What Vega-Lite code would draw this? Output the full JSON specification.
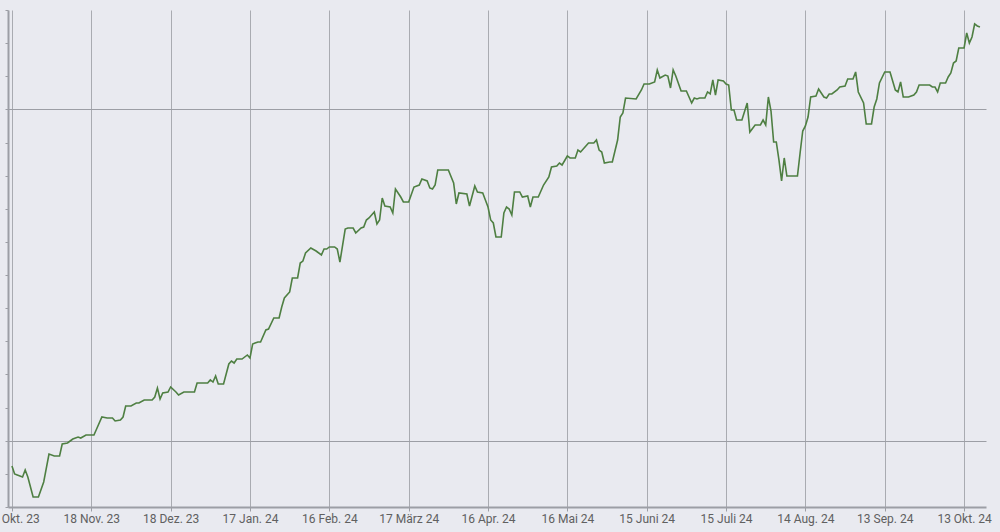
{
  "$schema": "https://vega.github.io/schema/vega-lite/v6.json",
  "width": 978,
  "height": 497,
  "autosize": {"type": "none"},
  "padding": {"left": 8, "top": 10, "right": 14, "bottom": 25},
  "background": "#e9eaf0",
  "config": {"view": {"stroke": null}, "font": "Roboto"},
  "data": {"values": [
    {"d":"2023-10-19","v":96.19},{"d":"2023-10-20","v":94.98},{"d":"2023-10-21","v":94.83},{"d":"2023-10-23","v":94.53},{"d":"2023-10-24","v":95.58},{"d":"2023-10-25","v":94.53},{"d":"2023-10-27","v":91.51},{"d":"2023-10-29","v":91.51},{"d":"2023-10-31","v":93.77},
    {"d":"2023-11-02","v":98.0},{"d":"2023-11-04","v":97.7},{"d":"2023-11-06","v":97.7},{"d":"2023-11-07","v":99.51},{"d":"2023-11-09","v":99.66},{"d":"2023-11-10","v":99.96},{"d":"2023-11-11","v":100.26},{"d":"2023-11-13","v":100.56},{"d":"2023-11-14","v":100.41},{"d":"2023-11-16","v":100.87},{"d":"2023-11-19","v":100.87},{"d":"2023-11-20","v":101.77},{"d":"2023-11-22","v":103.58},{"d":"2023-11-24","v":103.43},{"d":"2023-11-26","v":103.43},{"d":"2023-11-27","v":102.98},{"d":"2023-11-29","v":103.13},{"d":"2023-11-30","v":103.58},
    {"d":"2023-12-01","v":105.24},{"d":"2023-12-03","v":105.24},{"d":"2023-12-05","v":105.69},{"d":"2023-12-06","v":105.69},{"d":"2023-12-08","v":106.15},{"d":"2023-12-11","v":106.15},{"d":"2023-12-12","v":106.6},{"d":"2023-12-13","v":107.96},{"d":"2023-12-14","v":106.3},{"d":"2023-12-15","v":107.2},{"d":"2023-12-17","v":107.35},{"d":"2023-12-18","v":108.11},{"d":"2023-12-20","v":107.35},{"d":"2023-12-21","v":106.9},{"d":"2023-12-23","v":107.35},{"d":"2023-12-27","v":107.35},{"d":"2023-12-28","v":108.71},
    {"d":"2024-01-01","v":108.71},{"d":"2024-01-02","v":109.17},{"d":"2024-01-03","v":108.86},{"d":"2024-01-04","v":109.77},{"d":"2024-01-05","v":108.56},{"d":"2024-01-07","v":108.56},{"d":"2024-01-09","v":111.58},{"d":"2024-01-10","v":112.03},{"d":"2024-01-11","v":111.73},{"d":"2024-01-12","v":112.33},{"d":"2024-01-14","v":112.33},{"d":"2024-01-16","v":112.94},{"d":"2024-01-17","v":112.49},{"d":"2024-01-18","v":114.6},{"d":"2024-01-20","v":114.9},{"d":"2024-01-21","v":114.9},{"d":"2024-01-23","v":116.71},{"d":"2024-01-24","v":116.86},{"d":"2024-01-26","v":118.52},{"d":"2024-01-28","v":118.52},{"d":"2024-01-29","v":120.18},{"d":"2024-01-30","v":121.54},
    {"d":"2024-02-01","v":122.45},{"d":"2024-02-02","v":124.56},{"d":"2024-02-04","v":124.56},{"d":"2024-02-05","v":126.82},{"d":"2024-02-06","v":127.12},{"d":"2024-02-07","v":128.33},{"d":"2024-02-09","v":129.09},{"d":"2024-02-11","v":128.63},{"d":"2024-02-13","v":128.03},{"d":"2024-02-14","v":128.93},{"d":"2024-02-15","v":128.93},{"d":"2024-02-16","v":129.24},{"d":"2024-02-18","v":129.24},{"d":"2024-02-19","v":128.93},{"d":"2024-02-20","v":126.97},{"d":"2024-02-22","v":131.95},{"d":"2024-02-23","v":132.1},{"d":"2024-02-25","v":132.1},{"d":"2024-02-26","v":131.35},{"d":"2024-02-28","v":132.1},{"d":"2024-02-29","v":132.25},
    {"d":"2024-03-01","v":133.31},{"d":"2024-03-02","v":133.61},{"d":"2024-03-04","v":134.52},{"d":"2024-03-05","v":132.71},{"d":"2024-03-06","v":133.31},{"d":"2024-03-07","v":136.63},{"d":"2024-03-08","v":135.42},{"d":"2024-03-10","v":135.27},{"d":"2024-03-11","v":134.37},{"d":"2024-03-12","v":137.99},{"d":"2024-03-14","v":136.78},{"d":"2024-03-15","v":136.03},{"d":"2024-03-17","v":136.03},{"d":"2024-03-19","v":138.29},{"d":"2024-03-21","v":138.59},{"d":"2024-03-22","v":139.5},{"d":"2024-03-24","v":139.2},{"d":"2024-03-25","v":138.14},{"d":"2024-03-26","v":137.99},{"d":"2024-03-27","v":138.59},{"d":"2024-03-28","v":140.86},
    {"d":"2024-04-01","v":140.86},{"d":"2024-04-03","v":138.89},{"d":"2024-04-04","v":135.73},{"d":"2024-04-05","v":137.39},{"d":"2024-04-08","v":137.24},{"d":"2024-04-09","v":135.42},{"d":"2024-04-11","v":138.44},{"d":"2024-04-12","v":137.54},{"d":"2024-04-14","v":137.39},{"d":"2024-04-15","v":136.33},{"d":"2024-04-16","v":135.27},{"d":"2024-04-17","v":133.31},{"d":"2024-04-18","v":132.86},{"d":"2024-04-19","v":130.75},{"d":"2024-04-21","v":130.75},{"d":"2024-04-22","v":134.37},{"d":"2024-04-23","v":135.27},{"d":"2024-04-24","v":134.97},{"d":"2024-04-25","v":134.07},{"d":"2024-04-26","v":137.54},{"d":"2024-04-28","v":137.54},{"d":"2024-04-29","v":136.78},
    {"d":"2024-05-01","v":136.93},{"d":"2024-05-02","v":135.27},{"d":"2024-05-03","v":136.78},{"d":"2024-05-05","v":136.78},{"d":"2024-05-07","v":138.59},{"d":"2024-05-09","v":139.8},{"d":"2024-05-10","v":141.31},{"d":"2024-05-12","v":141.46},{"d":"2024-05-13","v":141.91},{"d":"2024-05-14","v":141.61},{"d":"2024-05-16","v":142.97},{"d":"2024-05-17","v":142.67},{"d":"2024-05-19","v":142.67},{"d":"2024-05-20","v":143.87},{"d":"2024-05-21","v":143.57},{"d":"2024-05-24","v":144.93},{"d":"2024-05-26","v":144.93},{"d":"2024-05-27","v":145.38},{"d":"2024-05-28","v":143.87},{"d":"2024-05-29","v":143.57},{"d":"2024-05-30","v":141.91},
    {"d":"2024-06-01","v":142.06},{"d":"2024-06-02","v":142.06},{"d":"2024-06-04","v":145.38},{"d":"2024-06-05","v":148.85},{"d":"2024-06-06","v":149.46},{"d":"2024-06-07","v":151.72},{"d":"2024-06-11","v":151.57},{"d":"2024-06-13","v":152.93},{"d":"2024-06-14","v":153.83},{"d":"2024-06-16","v":153.83},{"d":"2024-06-18","v":154.14},{"d":"2024-06-19","v":155.95},{"d":"2024-06-20","v":154.74},{"d":"2024-06-22","v":155.19},{"d":"2024-06-23","v":155.04},{"d":"2024-06-24","v":153.23},{"d":"2024-06-25","v":155.95},{"d":"2024-06-26","v":155.04},{"d":"2024-06-28","v":152.78},{"d":"2024-06-30","v":152.78},
    {"d":"2024-07-02","v":150.97},{"d":"2024-07-03","v":151.72},{"d":"2024-07-04","v":151.57},{"d":"2024-07-05","v":151.72},{"d":"2024-07-07","v":151.72},{"d":"2024-07-08","v":152.63},{"d":"2024-07-09","v":152.33},{"d":"2024-07-10","v":154.44},{"d":"2024-07-11","v":152.17},{"d":"2024-07-12","v":154.44},{"d":"2024-07-14","v":154.29},{"d":"2024-07-15","v":153.83},{"d":"2024-07-16","v":153.68},{"d":"2024-07-17","v":149.91},{"d":"2024-07-18","v":149.91},{"d":"2024-07-19","v":148.4},{"d":"2024-07-21","v":148.4},{"d":"2024-07-23","v":150.97},{"d":"2024-07-24","v":146.59},{"d":"2024-07-26","v":147.65},{"d":"2024-07-28","v":147.65},{"d":"2024-07-29","v":148.4},{"d":"2024-07-30","v":147.65},{"d":"2024-07-31","v":151.87},
    {"d":"2024-08-01","v":149.76},{"d":"2024-08-02","v":145.08},{"d":"2024-08-03","v":145.08},{"d":"2024-08-04","v":142.37},{"d":"2024-08-05","v":139.2},{"d":"2024-08-06","v":142.67},{"d":"2024-08-07","v":139.95},{"d":"2024-08-11","v":139.95},{"d":"2024-08-12","v":143.42},{"d":"2024-08-13","v":146.74},{"d":"2024-08-14","v":147.5},{"d":"2024-08-15","v":148.85},{"d":"2024-08-16","v":151.87},{"d":"2024-08-18","v":152.02},{"d":"2024-08-19","v":153.08},{"d":"2024-08-21","v":151.87},{"d":"2024-08-22","v":151.72},{"d":"2024-08-23","v":152.33},{"d":"2024-08-24","v":152.33},{"d":"2024-08-26","v":152.93},{"d":"2024-08-27","v":153.38},{"d":"2024-08-29","v":153.53},{"d":"2024-08-30","v":154.59},
    {"d":"2024-09-01","v":154.59},{"d":"2024-09-02","v":155.65},{"d":"2024-09-03","v":152.63},{"d":"2024-09-05","v":150.97},{"d":"2024-09-06","v":147.8},{"d":"2024-09-08","v":147.8},{"d":"2024-09-09","v":150.36},{"d":"2024-09-10","v":151.57},{"d":"2024-09-11","v":153.99},{"d":"2024-09-13","v":155.65},{"d":"2024-09-15","v":155.65},{"d":"2024-09-16","v":154.29},{"d":"2024-09-17","v":152.93},{"d":"2024-09-18","v":152.63},{"d":"2024-09-19","v":154.14},{"d":"2024-09-20","v":151.87},{"d":"2024-09-22","v":151.87},{"d":"2024-09-24","v":152.17},{"d":"2024-09-25","v":152.63},{"d":"2024-09-26","v":153.68},{"d":"2024-09-30","v":153.68},
    {"d":"2024-10-01","v":153.38},{"d":"2024-10-02","v":153.38},{"d":"2024-10-03","v":152.63},{"d":"2024-10-04","v":153.99},{"d":"2024-10-06","v":153.99},{"d":"2024-10-07","v":154.89},{"d":"2024-10-08","v":155.49},{"d":"2024-10-09","v":157.0},{"d":"2024-10-10","v":157.31},{"d":"2024-10-11","v":159.27},{"d":"2024-10-13","v":159.27},{"d":"2024-10-14","v":161.53},{"d":"2024-10-15","v":160.02},{"d":"2024-10-16","v":160.93},{"d":"2024-10-17","v":162.89},{"d":"2024-10-18","v":162.59},{"d":"2024-10-19","v":162.44}
  ]},
  "mark": {"type": "line", "color": "#4e7f42", "strokeWidth": 1.6, "interpolate": "linear"},
  "encoding": {
    "x": {
      "field": "d", "type": "temporal", "title": null,
      "scale": {"type": "utc", "domain": [{"year": 2023, "month": 10, "date": 17, "hours": 12, "utc": true}, {"year": 2024, "month": 10, "date": 21, "hours": 7, "utc": true}], "nice": false},
      "axis": {
        "values": [
          {"year": 2023, "month": 10, "date": 19, "utc": true},
          {"year": 2023, "month": 11, "date": 18, "utc": true},
          {"year": 2023, "month": 12, "date": 18, "utc": true},
          {"year": 2024, "month": 1, "date": 17, "utc": true},
          {"year": 2024, "month": 2, "date": 16, "utc": true},
          {"year": 2024, "month": 3, "date": 17, "utc": true},
          {"year": 2024, "month": 4, "date": 16, "utc": true},
          {"year": 2024, "month": 5, "date": 16, "utc": true},
          {"year": 2024, "month": 6, "date": 15, "utc": true},
          {"year": 2024, "month": 7, "date": 15, "utc": true},
          {"year": 2024, "month": 8, "date": 14, "utc": true},
          {"year": 2024, "month": 9, "date": 13, "utc": true},
          {"year": 2024, "month": 10, "date": 13, "utc": true}
        ],
        "labelExpr": "utcdate(datum.value) + ' ' + ['Jan.','Feb.','März','Apr.','Mai','Juni','Juli','Aug.','Sep.','Okt.','Nov.','Dez.'][utcmonth(datum.value)] + ' ' + utcFormat(datum.value, '%y')",
        "labelFont": "Roboto", "labelFontSize": 12, "labelColor": "#606060",
        "labelOverlap": false, "labelFlush": false, "labelBound": false,
        "labelPadding": 2,
        "domainColor": "#9c9ea5", "domainWidth": 2,
        "tickColor": "#9c9ea5", "tickSize": 4, "tickWidth": 1,
        "grid": true, "gridColor": "#a9abb1", "gridWidth": 1
      }
    },
    "y": {
      "field": "v", "type": "quantitative", "title": null,
      "scale": {"domain": [90, 165], "nice": false, "zero": false},
      "axis": {
        "values": [90, 95, 100, 105, 110, 115, 120, 125, 130, 135, 140, 145, 150, 155, 160, 165],
        "labels": false,
        "domainColor": "#9c9ea5", "domainWidth": 2,
        "tickColor": "#9c9ea5", "tickSize": 3, "tickWidth": 1,
        "grid": true, "gridColor": "#9c9ea5", "gridWidth": 1,
        "gridOpacity": {"condition": {"test": "datum.value === 100 || datum.value === 150", "value": 1}, "value": 0}
      }
    }
  }
}
